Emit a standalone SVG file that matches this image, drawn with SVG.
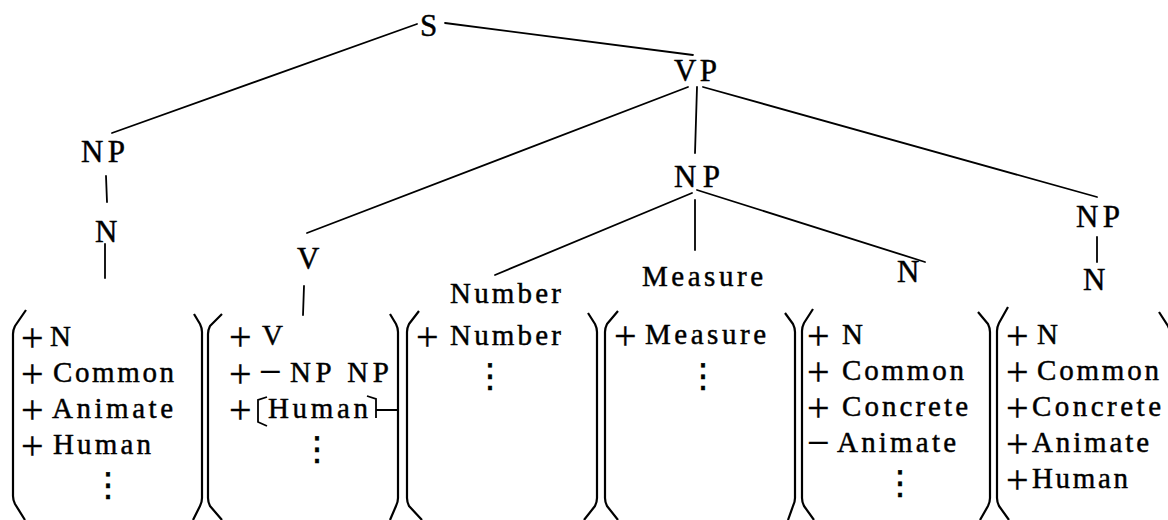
<svg xmlns="http://www.w3.org/2000/svg" width="1168" height="520" viewBox="0 0 1168 520">
  <style>
    text { font-family: "Liberation Serif", "Times New Roman", serif; fill: #000; stroke: #000; stroke-width: 0.45; }
    .cat { font-size: 31px; }
    .word { font-size: 29px; }
    .sym { font-size: 40px; stroke-width: 0.3; }
    .dots { font-family: "DejaVu Sans", sans-serif; font-size: 33px; stroke-width: 0.6; }
    .edge { stroke: #000; stroke-width: 1.8; fill: none; stroke-linecap: round; }
    .paren { stroke: #000; stroke-width: 2.2; fill: none; stroke-linejoin: round; }
    .tick { stroke: #000; stroke-width: 1.8; fill: none; }
  </style>
  <rect width="1168" height="520" fill="#fff"/>

  <!-- tree branches -->
  <g id="connectors">
    <line class="edge" x1="417" y1="24" x2="112" y2="133"/>
    <line class="edge" x1="445" y1="23" x2="693" y2="55"/>
    <line class="edge" x1="688" y1="87" x2="307" y2="233"/>
    <line class="edge" x1="697" y1="87" x2="695" y2="153"/>
    <line class="edge" x1="703" y1="87" x2="1097" y2="197"/>
    <line class="edge" x1="106" y1="176" x2="107" y2="202"/>
    <line class="edge" x1="105" y1="244" x2="105" y2="278"/>
    <line class="edge" x1="304" y1="286" x2="303" y2="315"/>
    <line class="edge" x1="692" y1="193" x2="495" y2="275"/>
    <line class="edge" x1="695" y1="200" x2="695" y2="250"/>
    <line class="edge" x1="697" y1="190" x2="925" y2="262"/>
    <line class="edge" x1="1097" y1="237" x2="1097" y2="262"/>
  </g>

  <!-- category labels -->
  <g id="node-S"><text class="cat" x="420" y="36">S</text></g>
  <g id="node-VP"><text class="cat" x="674" y="81" textLength="43" lengthAdjust="spacing">VP</text></g>
  <g id="node-NP-subject"><text class="cat" x="81" y="162" textLength="44" lengthAdjust="spacing">NP</text></g>
  <g id="node-N-subject"><text class="cat" x="95" y="242">N</text></g>
  <g id="node-V"><text class="cat" x="297" y="269">V</text></g>
  <g id="node-NP-object1"><text class="cat" x="674" y="187" textLength="46" lengthAdjust="spacing">NP</text></g>
  <g id="node-Number"><text class="word" x="450" y="303" textLength="111" lengthAdjust="spacing">Number</text></g>
  <g id="node-Measure"><text class="word" x="642" y="286" textLength="121" lengthAdjust="spacing">Measure</text></g>
  <g id="node-N-object1"><text class="cat" x="897" y="282">N</text></g>
  <g id="node-NP-object2"><text class="cat" x="1076" y="227" textLength="44" lengthAdjust="spacing">NP</text></g>
  <g id="node-N-object2"><text class="cat" x="1083" y="290">N</text></g>

  <!-- feature matrix: subject noun -->
  <g id="matrix-1">
    <path class="paren" d="M26 310 L15 326 Q13 330 13 334 L13 496 Q13 500 15 504 L25 520"/>
    <path class="paren" d="M194 314 L200 324 Q202 328 202 332 L202 498 Q202 502 200 506 L193 520"/>
    <text class="sym" x="21" y="351">+</text><text class="word" x="50" y="346">N</text>
    <text class="sym" x="21" y="387">+</text><text class="word" x="53" y="382" textLength="121" lengthAdjust="spacing">Common</text>
    <text class="sym" x="21" y="423">+</text><text class="word" x="52" y="418" textLength="121" lengthAdjust="spacing">Animate</text>
    <text class="sym" x="21" y="459">+</text><text class="word" x="53" y="454" textLength="98" lengthAdjust="spacing">Human</text>
    <text class="dots" x="108" y="496" text-anchor="middle">⋮</text>
  </g>

  <!-- feature matrix: verb -->
  <g id="matrix-2">
    <path class="paren" d="M222 314 L210 326 Q208 330 208 334 L208 498 Q208 502 210 506 L222 520"/>
    <path class="paren" d="M390 314 L396 324 Q398 328 398 332 L398 498 Q398 502 396 506 L390 520"/>
    <text class="sym" x="229" y="350">+</text><text class="word" x="262" y="345">V</text>
    <text class="sym" x="229" y="387">+</text><text class="sym" x="259" y="385">−</text>
    <text class="word" x="290" y="382" textLength="99" lengthAdjust="spacing">NP NP</text>
    <text class="sym" x="229" y="423">+</text>
    <path class="tick" d="M267 397 L258 400 L258 422 L267 426"/>
    <text class="word" x="268" y="418" textLength="100" lengthAdjust="spacing">Human</text>
    <path class="tick" d="M367 396 L376 399 L376 418 M376 410 L398 410"/>
    <text class="dots" x="317" y="460" text-anchor="middle">⋮</text>
  </g>

  <!-- feature matrix: number -->
  <g id="matrix-3">
    <path class="paren" d="M419 311 L409 324 Q407 328 407 332 L407 498 Q407 502 409 506 L422 520"/>
    <path class="paren" d="M588 313 L595 324 Q597 328 597 332 L597 498 Q597 502 595 506 L584 520"/>
    <text class="sym" x="416" y="350">+</text><text class="word" x="450" y="345" textLength="111" lengthAdjust="spacing">Number</text>
    <text class="dots" x="490" y="387" text-anchor="middle">⋮</text>
  </g>

  <!-- feature matrix: measure word -->
  <g id="matrix-4">
    <path class="paren" d="M618 311 L607 324 Q605 328 605 332 L605 498 Q605 502 607 506 L618 520"/>
    <path class="paren" d="M785 313 L793 324 Q795 328 795 332 L795 498 Q795 502 793 506 L788 520"/>
    <text class="sym" x="614" y="349">+</text><text class="word" x="645" y="344" textLength="121" lengthAdjust="spacing">Measure</text>
    <text class="dots" x="703" y="387" text-anchor="middle">⋮</text>
  </g>

  <!-- feature matrix: inanimate noun -->
  <g id="matrix-5">
    <path class="paren" d="M813 309 L804 323 Q802 327 802 331 L802 498 Q802 502 804 506 L814 520"/>
    <path class="paren" d="M978 312 L988 324 Q990 328 990 332 L990 498 Q990 502 988 506 L980 520"/>
    <text class="sym" x="807" y="349">+</text><text class="word" x="842" y="344">N</text>
    <text class="sym" x="807" y="385">+</text><text class="word" x="842" y="380" textLength="122" lengthAdjust="spacing">Common</text>
    <text class="sym" x="807" y="421">+</text><text class="word" x="842" y="416" textLength="126" lengthAdjust="spacing">Concrete</text>
    <text class="sym" x="807" y="456">−</text><text class="word" x="837" y="452" textLength="119" lengthAdjust="spacing">Animate</text>
    <text class="dots" x="900" y="494" text-anchor="middle">⋮</text>
  </g>

  <!-- feature matrix: human noun -->
  <g id="matrix-6">
    <path class="paren" d="M1008 307 L999 323 Q997 327 997 331 L997 498 Q997 502 999 506 L1009 520"/>
    <path class="paren" d="M1159 312 L1168 326 Q1170 330 1170 334 L1170 500"/>
    <text class="sym" x="1006" y="349">+</text><text class="word" x="1037" y="344">N</text>
    <text class="sym" x="1006" y="385">+</text><text class="word" x="1037" y="380" textLength="122" lengthAdjust="spacing">Common</text>
    <text class="sym" x="1006" y="421">+</text><text class="word" x="1032" y="416" textLength="129" lengthAdjust="spacing">Concrete</text>
    <text class="sym" x="1006" y="457">+</text><text class="word" x="1032" y="452" textLength="117" lengthAdjust="spacing">Animate</text>
    <text class="sym" x="1006" y="493">+</text><text class="word" x="1032" y="488" textLength="96" lengthAdjust="spacing">Human</text>
  </g>
</svg>
